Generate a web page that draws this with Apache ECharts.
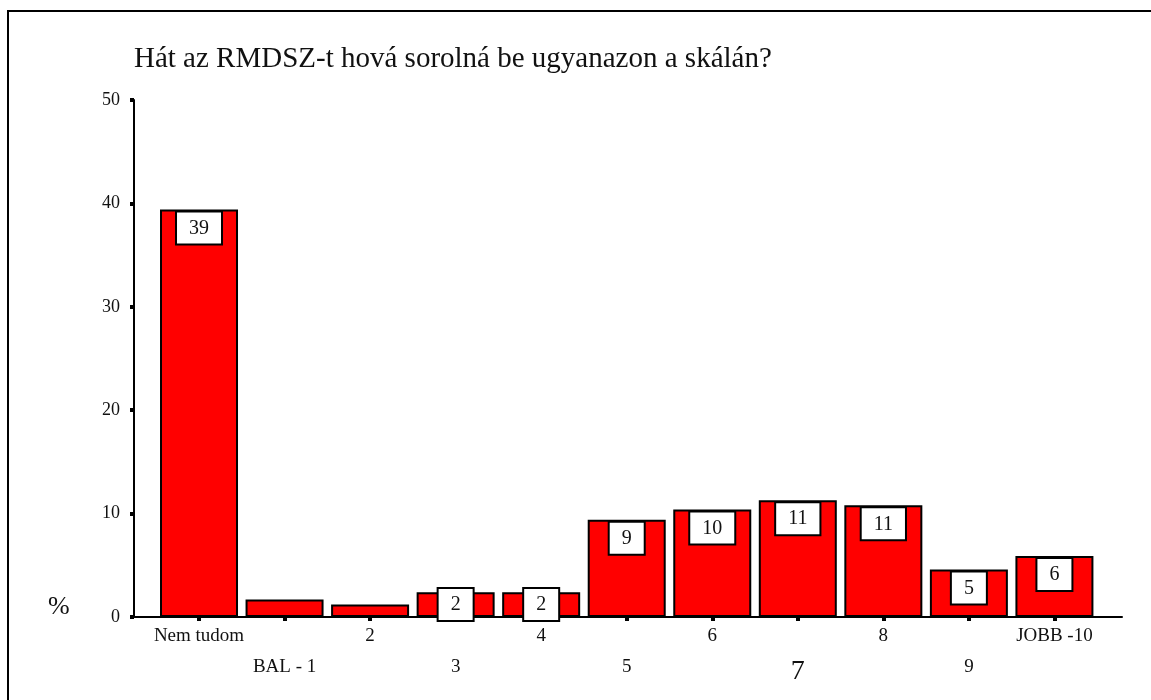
<!DOCTYPE html>
<html>
<head>
<meta charset="utf-8">
<title>RMDSZ skála</title>
<script src="https://cdn.jsdelivr.net/npm/echarts@6/dist/echarts.min.js"></script>
<style>
    html, body { margin: 0; padding: 0; background: #fff; }
    #chart { width: 1151px; height: 700px; }
</style>
</head>
<body>
<div id="chart"></div>
<script>
var categories = ['Nem tudom', 'BAL - 1', '2', '3', '4', '5', '6', '7', '8', '9', 'JOBB -10'];
var percents = [39.4, 1.7, 1.2, 2.4, 2.4, 9.4, 10.4, 11.3, 10.8, 4.6, 5.9];
var barLabels = ['39', '', '', '2', '2', '9', '10', '11', '11', '5', '6'];
var yTicks = [0, 10, 20, 30, 40, 50];

var serif = "'Liberation Serif', 'DejaVu Serif', serif";

var evenIdx = [], oddIdx = [];
categories.forEach(function (c, i) {
    (i % 2 === 0 ? evenIdx : oddIdx).push(i);
});

var barData = percents.map(function (v, i) {
    var item = { value: [i, v] };
    if (!barLabels[i]) {
        item.label = { show: false };
    } else if (v < 3.5) {
        // short bars: box sits centered on the bar
        item.label = { position: 'inside' };
    }
    return item;
});

var myChart = echarts.init(document.getElementById('chart'));

var option = {
    animation: false,
    backgroundColor: '#fff',
    title: {
        text: 'Hát az RMDSZ-t hová sorolná be ugyanazon a skálán?',
        left: 129,
        top: 40,
        textStyle: { fontFamily: serif, fontSize: 29, fontWeight: 'normal', color: '#111' }
    },
    grid: { left: 134, right: 29, top: 100, bottom: 83 },
    xAxis: [
        {
            type: 'value',
            min: -0.76,
            max: 10.79,
            splitLine: { show: false },
            axisLine: { show: true, onZero: false, lineStyle: { color: '#000', width: 2 } },
            axisTick: { show: true, customValues: evenIdx.concat(oddIdx), length: 4, lineStyle: { color: '#000', width: 4 } },
            axisLabel: {
                customValues: evenIdx,
                margin: 10,
                fontFamily: serif,
                fontSize: 19,
                color: '#111',
                formatter: function (v) { return categories[Math.round(v)]; }
            }
        },
        {
            type: 'value',
            position: 'bottom',
            min: -0.76,
            max: 10.79,
            splitLine: { show: false },
            axisLine: { show: false, onZero: false },
            axisTick: { show: false },
            axisLabel: {
                customValues: oddIdx,
                margin: 41,
                fontFamily: serif,
                fontSize: 19,
                color: '#111',
                formatter: function (v) {
                    var t = categories[Math.round(v)];
                    return t === '7' ? '{big|7}' : t;
                },
                rich: { big: { fontFamily: serif, fontSize: 28, color: '#111' } }
            }
        }
    ],
    yAxis: {
        type: 'value',
        min: 0,
        max: 50,
        interval: 10,
        splitLine: { show: false },
        axisLine: { show: true, onZero: false, lineStyle: { color: '#000', width: 2 } },
        axisTick: { show: true, length: 4, lineStyle: { color: '#000', width: 4 } },
        axisLabel: {
            margin: 14,
            fontFamily: serif,
            fontSize: 18,
            color: '#111',
            customValues: yTicks
        }
    },
    graphic: [
        { type: 'line', shape: { x1: 7, y1: 11, x2: 1151, y2: 11 }, style: { stroke: '#000', lineWidth: 2 } },
        { type: 'line', shape: { x1: 8, y1: 10, x2: 8, y2: 700 }, style: { stroke: '#000', lineWidth: 2 } },
        { type: 'text', left: 48, top: 594, style: { text: '%', fontFamily: serif, fontSize: 26, fill: '#111' } }
    ],
    series: [{
        type: 'bar',
        xAxisIndex: 0,
        barWidth: 78,
        data: barData,
        itemStyle: { color: '#ff0000', borderColor: '#000', borderWidth: 2 },
        label: {
            show: true,
            position: 'insideTop',
            distance: 3,
            formatter: function (p) { return barLabels[p.dataIndex]; },
            fontFamily: serif,
            fontSize: 20,
            lineHeight: 20,
            color: '#111',
            backgroundColor: '#fff',
            borderColor: '#000',
            borderWidth: 2,
            padding: [6, 12, 5, 12]
        }
    }]
};

myChart.setOption(option);
</script>
</body>
</html>
